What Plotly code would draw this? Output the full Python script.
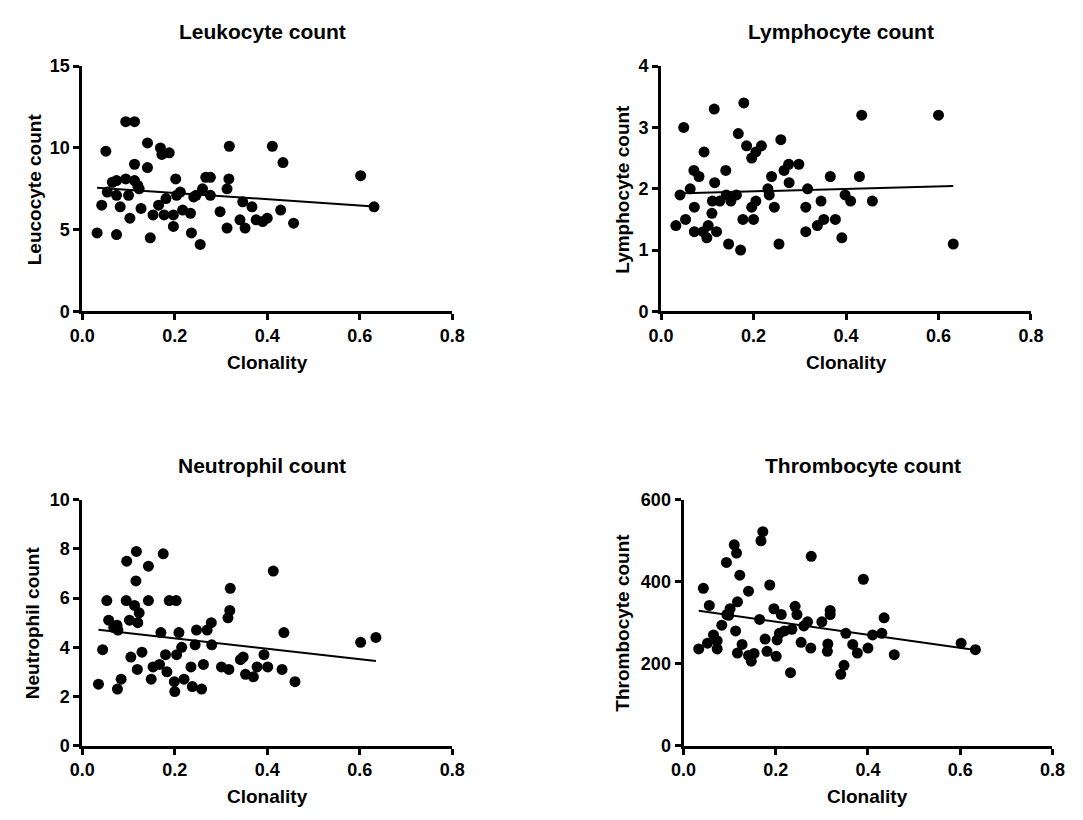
import numpy as np
import plotly.graph_objects as go

# ---------------- data ----------------
titles = ["Leukocyte count", "Lymphocyte count", "Neutrophil count", "Thrombocyte count"]
y_titles = ["Leucocyte count", "Lymphocyte count", "Neutrophil count", "Thrombocyte count"]
x_title = "Clonality"

leuko_x = [0.032, 0.042, 0.051, 0.054, 0.065, 0.074, 0.074, 0.074, 0.082, 0.094, 0.094, 0.100, 0.103, 0.113, 0.113,
           0.113, 0.120, 0.123, 0.127, 0.141, 0.141, 0.147, 0.153, 0.165, 0.169, 0.172, 0.177, 0.181, 0.188, 0.197,
           0.197, 0.202, 0.204, 0.212, 0.217, 0.234, 0.236, 0.241, 0.246, 0.255, 0.260, 0.267, 0.277, 0.277, 0.298,
           0.313, 0.313, 0.317, 0.318, 0.341, 0.347, 0.352, 0.367, 0.376, 0.390, 0.400, 0.411, 0.429, 0.434, 0.457,
           0.602, 0.631]
leuko_y = [4.8, 6.5, 9.8, 7.3, 7.9, 8.0, 7.1, 4.7, 6.4, 11.6, 8.1, 7.1, 5.7, 11.6, 9.0,
           8.0, 7.7, 7.5, 6.3, 10.3, 8.8, 4.5, 5.9, 6.5, 10.0, 9.6, 5.9, 6.9, 9.7, 5.9,
           5.2, 8.1, 7.1, 7.3, 6.2, 6.0, 4.8, 7.0, 7.1, 4.1, 7.5, 8.2, 8.2, 7.1, 6.1,
           5.1, 7.5, 8.1, 10.1, 5.6, 6.7, 5.1, 6.4, 5.6, 5.5, 5.7, 10.1, 6.2, 9.1, 5.4,
           8.3, 6.4]

lympho_x = [0.032, 0.041, 0.049, 0.053, 0.063, 0.071, 0.072, 0.072, 0.082, 0.091, 0.093, 0.099, 0.102, 0.110, 0.111,
            0.115, 0.116, 0.120, 0.127, 0.140, 0.141, 0.146, 0.151, 0.163, 0.167, 0.172, 0.177, 0.179, 0.185, 0.196,
            0.196, 0.200, 0.205, 0.205, 0.217, 0.231, 0.234, 0.239, 0.245, 0.255, 0.259, 0.266, 0.276, 0.277, 0.298,
            0.313, 0.313, 0.317, 0.338, 0.346, 0.352, 0.366, 0.377, 0.391, 0.398, 0.410, 0.429, 0.434, 0.457, 0.600,
            0.632]
lympho_y = [1.4, 1.9, 3.0, 1.5, 2.0, 2.3, 1.7, 1.3, 2.2, 1.3, 2.6, 1.2, 1.4, 1.6, 1.8,
            3.3, 2.1, 1.3, 1.8, 2.3, 1.9, 1.1, 1.8, 1.9, 2.9, 1.0, 1.5, 3.4, 2.7, 1.7,
            2.5, 1.5, 1.8, 2.6, 2.7, 2.0, 1.9, 2.2, 1.7, 1.1, 2.8, 2.3, 2.4, 2.1, 2.4,
            1.3, 1.7, 2.0, 1.4, 1.8, 1.5, 2.2, 1.5, 1.2, 1.9, 1.8, 2.2, 3.2, 1.8, 3.2,
            1.1]

neutro_x = [0.035, 0.044, 0.053, 0.057, 0.068, 0.075, 0.077, 0.076, 0.084, 0.096, 0.095, 0.102, 0.105, 0.113, 0.117,
            0.116, 0.120, 0.123, 0.119, 0.129, 0.143, 0.143, 0.149, 0.153, 0.167, 0.170, 0.175, 0.180, 0.183, 0.188,
            0.199, 0.200, 0.203, 0.204, 0.209, 0.215, 0.220, 0.235, 0.238, 0.244, 0.247, 0.258, 0.262, 0.270, 0.279,
            0.280, 0.301, 0.317, 0.315, 0.319, 0.320, 0.342, 0.348, 0.353, 0.370, 0.378, 0.393, 0.401, 0.413, 0.432,
            0.436, 0.460, 0.602, 0.635]
neutro_y = [2.5, 3.9, 5.9, 5.1, 4.8, 4.9, 4.7, 2.3, 2.7, 7.5, 5.9, 5.1, 3.6, 5.7, 7.9,
            6.7, 5.0, 5.4, 3.1, 3.8, 7.3, 5.9, 2.7, 3.2, 3.3, 4.6, 7.8, 3.7, 3.0, 5.9,
            2.6, 2.2, 5.9, 3.7, 4.6, 4.0, 2.7, 3.2, 2.4, 4.1, 4.7, 2.3, 3.3, 4.7, 5.0,
            4.1, 3.2, 3.1, 5.2, 5.5, 6.4, 3.5, 3.6, 2.9, 2.8, 3.2, 3.7, 3.2, 7.1, 3.1,
            4.6, 2.6, 4.2, 4.4]

thrombo_x = [0.033, 0.043, 0.052, 0.056, 0.065, 0.073, 0.073, 0.083, 0.093, 0.094, 0.101, 0.098, 0.110, 0.115, 0.113,
             0.117, 0.117, 0.122, 0.127, 0.141, 0.141, 0.147, 0.153, 0.165, 0.168, 0.172, 0.177, 0.181, 0.187, 0.196,
             0.201, 0.203, 0.208, 0.212, 0.219, 0.232, 0.235, 0.242, 0.246, 0.255, 0.261, 0.269, 0.277, 0.276, 0.300,
             0.313, 0.312, 0.318, 0.318, 0.341, 0.348, 0.352, 0.367, 0.377, 0.390, 0.400, 0.410, 0.430, 0.435, 0.457,
             0.602, 0.633]
thrombo_y = [236, 384, 250, 342, 270, 256, 236, 294, 447, 320, 334, 318, 490, 470, 280,
             351, 226, 416, 247, 377, 220, 206, 225, 308, 500, 522, 260, 230, 392, 334,
             218, 258, 274, 320, 280, 178, 284, 340, 320, 252, 292, 302, 462, 238, 302,
             248, 230, 330, 320, 174, 196, 274, 247, 226, 406, 238, 270, 274, 312, 222,
             250, 234]

x_ticks = [0.0, 0.2, 0.4, 0.6, 0.8]
y_ranges = [[0, 15], [0, 4], [0, 10], [0, 600]]
y_dticks = [5, 1, 2, 200]

series = [(leuko_x, leuko_y), (lympho_x, lympho_y), (neutro_x, neutro_y), (thrombo_x, thrombo_y)]

# ---------------- layout geometry (pixels) ----------------
W, H = 1083, 820
boxes = [  # left, right, top, bottom
    (71, 450, 57.5, 309),
    (664, 1043, 57.5, 309),
    (71, 450, 502, 754),
    (687, 1065, 502, 754),
]
ytitle_x = [22, 625, 20, 625]

FONT = "Arial, Liberation Sans, sans-serif"

fig = go.Figure()
layout = dict(
    width=W, height=H, margin=dict(l=0, r=0, t=0, b=0),
    paper_bgcolor="white", plot_bgcolor="white", showlegend=False,
    annotations=[],
)

for i, ((xv, yv), (l, r, t, b)) in enumerate(zip(series, boxes)):
    n = "" if i == 0 else str(i + 1)
    xa, ya = "x" + n, "y" + n
    fig.add_trace(go.Scatter(x=xv, y=yv, mode="markers", xaxis=xa, yaxis=ya,
                             marker=dict(size=11, color="black", line=dict(width=0)),
                             hoverinfo="x+y"))
    slope, inter = np.polyfit(np.array(xv), np.array(yv), 1)
    xl = np.array([min(xv), max(xv)])
    fig.add_trace(go.Scatter(x=xl, y=slope * xl + inter, mode="lines", xaxis=xa, yaxis=ya,
                             line=dict(color="black", width=2), hoverinfo="skip"))
    common = dict(showline=True, linewidth=3, linecolor="black", ticks="outside", ticklen=6,
                  tickwidth=3, tickcolor="black", showgrid=False, zeroline=False,
                  tickfont=dict(family=FONT, size=18, color="black", weight="bold"))
    layout["xaxis" + n] = dict(domain=[l / W, r / W], range=[0, 0.8], tickvals=x_ticks,
                               tickformat=".1f", anchor=ya, **common)
    layout["yaxis" + n] = dict(domain=[1 - b / H, 1 - t / H], range=y_ranges[i], dtick=y_dticks[i],
                               tick0=0, anchor=xa, **common)
    cx = (l + r) / 2
    layout["annotations"] += [
        dict(text=titles[i], x=(cx - 5) / W, y=1 - (t - 35) / H, xref="paper", yref="paper",
             xanchor="center", yanchor="middle", showarrow=False,
             font=dict(family=FONT, size=21, color="black", weight="bold")),
        dict(text=x_title, x=cx / W, y=1 - (b + 52) / H, xref="paper", yref="paper",
             xanchor="center", yanchor="middle", showarrow=False,
             font=dict(family=FONT, size=19, color="black", weight="bold")),
        dict(text=y_titles[i], x=ytitle_x[i] / W, y=1 - ((t + b) / 2) / H, xref="paper", yref="paper",
             xanchor="center", yanchor="middle", showarrow=False, textangle=-90,
             font=dict(family=FONT, size=19, color="black", weight="bold")),
    ]

fig.update_layout(**layout)
fig.write_html("out.html")
